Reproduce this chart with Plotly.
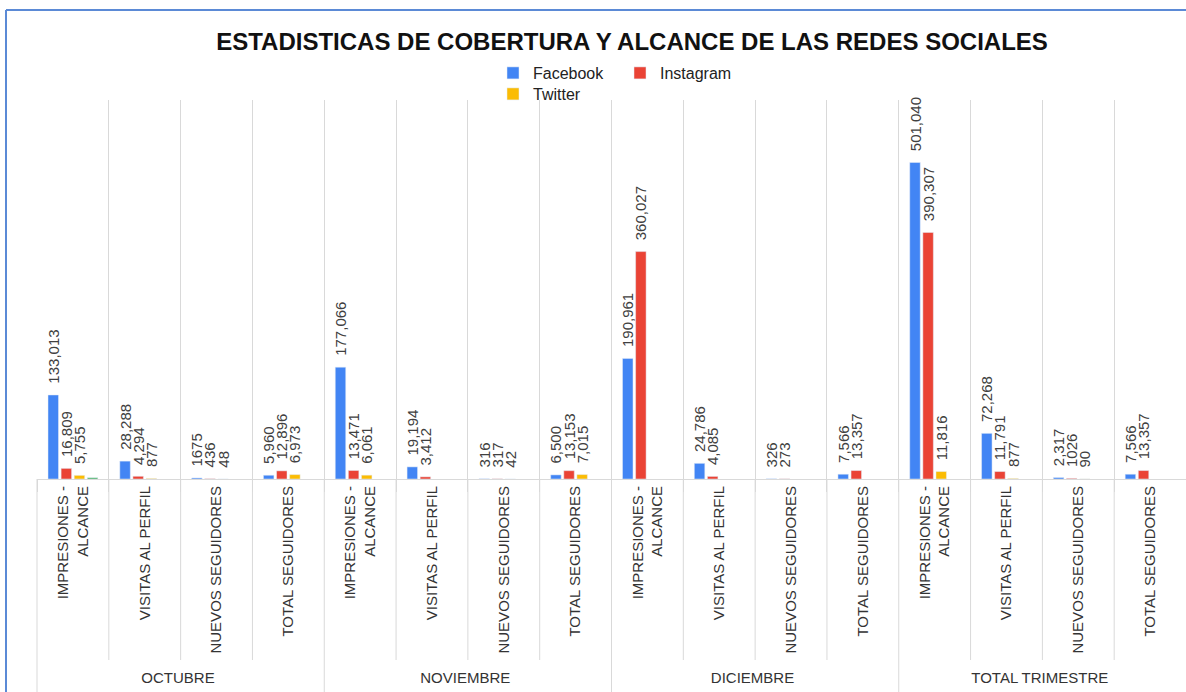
import plotly.graph_objects as go

# ---------------- data ----------------
months = ["OCTUBRE", "NOVIEMBRE", "DICIEMBRE", "TOTAL TRIMESTRE"]
metrics = ["IMPRESIONES -<br>ALCANCE", "VISITAS AL PERFIL", "NUEVOS SEGUIDORES", "TOTAL SEGUIDORES"]

facebook = [133013, 28288, 1675, 5960,
            177066, 19194, 316, 6500,
            190961, 24786, 326, 7566,
            501040, 72268, 2317, 7566]
instagram = [16809, 4294, 436, 12896,
             13471, 3412, 317, 13153,
             360027, 4085, 273, 13357,
             390307, 11791, 1026, 13357]
twitter = [5755, 877, 48, 6973,
           6061, None, 42, 7015,
           None, None, None, None,
           11816, 877, 90, None]
otra = [2000, None, None, None,
        None, None, None, None,
        None, None, None, None,
        None, None, None, None]

# labels shown without thousands separator in the original
no_comma = {"Facebook": {2}, "Instagram": {14}, "Twitter": set()}

x_outer = [m for m in months for _ in metrics]
x_inner = [k for _ in months for k in metrics]

W, H = 1186, 692
ML, MR, MT, MB = 37, 0, 100, 213
PW, PH = W - ML - MR, H - MT - MB
BASE = MT + PH  # pixel y of the baseline

FONT = "Liberation Sans, Arial"
GRID = "#d9d9d9"


def labels(vals, name):
    out = []
    for i, v in enumerate(vals):
        if v is None:
            out.append("")
        elif i in no_comma[name]:
            out.append("\u00a0\u00a0" + str(v))
        else:
            out.append("\u00a0\u00a0" + f"{v:,}")
    return out


fig = go.Figure()
series = [("Facebook", facebook, "#4285F4", "legend"),
          ("Instagram", instagram, "#EA4335", "legend"),
          ("Twitter", twitter, "#FBBC04", "legend2")]
for name, vals, col, lg in series:
    fig.add_trace(go.Bar(
        name=name, x=[x_outer, x_inner], y=vals, marker_color=col,
        text=labels(vals, name), textposition="outside", textangle=-90,
        constraintext="none", cliponaxis=False,
        textfont=dict(family=FONT, size=15, color="#404040"),
        legend=lg,
    ))
fig.add_trace(go.Bar(name="", x=[x_outer, x_inner], y=otra,
                     marker_color="#34A853", showlegend=False))

LEGX = (493 - ML) / PW
fig.update_layout(
    width=W, height=H,
    margin=dict(l=ML, r=MR, t=MT, b=MB, autoexpand=False),
    paper_bgcolor="white", plot_bgcolor="white",
    barmode="group", bargap=0.27, bargroupgap=0.2,
    title=dict(text="<b>ESTADISTICAS DE COBERTURA Y ALCANCE DE LAS REDES SOCIALES</b>",
               x=632 / W, xanchor="center", y=1 - 42 / H, yanchor="middle",
               font=dict(family=FONT, size=24, color="#111")),
    legend=dict(orientation="h", x=LEGX, xanchor="left",
                y=(BASE - 73) / PH, yanchor="middle",
                font=dict(family=FONT, size=16, color="#222"),
                bgcolor="rgba(0,0,0,0)", entrywidth=82, itemwidth=30),
    legend2=dict(orientation="h", x=LEGX, xanchor="left",
                 y=(BASE - 94) / PH, yanchor="middle",
                 font=dict(family=FONT, size=16, color="#222"),
                 bgcolor="rgba(0,0,0,0)", itemwidth=30),
    font=dict(family=FONT, color="#333"),
)
fig.update_xaxes(
    type="multicategory", tickangle=-90,
    tickfont=dict(family=FONT, size=15, color="#333"),
    showgrid=True, gridcolor=GRID, gridwidth=1,
    showline=True, linecolor=GRID,
    showdividers=False,
    ticks="outside", ticklen=12, tickcolor=GRID,
)
fig.update_yaxes(visible=False, range=[0, 600000], showgrid=False)

# vertical separators continuing into the label area
n = len(x_inner)
for i in range(0, n):
    full = i % len(metrics) == 0
    y1 = -(H + 10 - BASE) / PH if full else -(660 - BASE) / PH
    fig.add_shape(type="line", xref="paper", yref="paper",
                  x0=i / n, x1=i / n, y0=0, y1=y1,
                  line=dict(color=GRID, width=1), layer="below")

# blue selection frame at top/left edges
fx = (6 - ML) / PW
fy = (BASE - 10) / PH
fig.add_shape(type="line", xref="paper", yref="paper", x0=fx, x1=fx,
              y0=fy, y1=(BASE - H - 10) / PH, line=dict(color="#5b8ad6", width=2))
fig.add_shape(type="line", xref="paper", yref="paper", x0=fx, x1=1.01,
              y0=fy, y1=fy, line=dict(color="#5b8ad6", width=2))

fig.write_html("out.html", config={"displayModeBar": False},
               post_script="document.body.style.margin='0px';")
